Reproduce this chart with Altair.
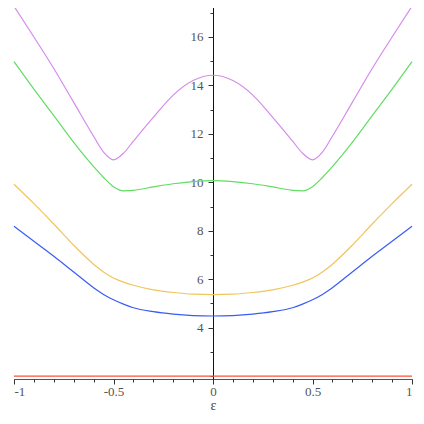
import altair as alt
import pandas as pd

# epsilon grid (x values)
eps = [-1, -0.9, -0.8, -0.7, -0.6, -0.55, -0.5, -0.45, -0.4, -0.3, -0.2, -0.1, 0,
       0.1, 0.2, 0.3, 0.4, 0.45, 0.5, 0.55, 0.6, 0.7, 0.8, 0.9, 1]

red = [2.0, 2.0, 2.0, 2.0, 2.0, 2.0, 2.0, 2.0, 2.0, 2.0, 2.0, 2.0, 2.0,
       2.0, 2.0, 2.0, 2.0, 2.0, 2.0, 2.0, 2.0, 2.0, 2.0, 2.0, 2.0]
blue = [8.19, 7.57, 6.95, 6.30, 5.65, 5.37, 5.15, 4.97, 4.82, 4.66, 4.56, 4.50, 4.48,
        4.50, 4.56, 4.66, 4.82, 4.97, 5.15, 5.37, 5.65, 6.30, 6.95, 7.57, 8.19]
yellow = [9.92, 9.12, 8.28, 7.40, 6.62, 6.30, 6.05, 5.88, 5.75, 5.56, 5.45, 5.38, 5.36,
          5.38, 5.45, 5.56, 5.75, 5.88, 6.05, 6.30, 6.62, 7.40, 8.28, 9.12, 9.92]
green = [14.98, 13.85, 12.75, 11.65, 10.65, 10.20, 9.82, 9.65, 9.67, 9.81, 9.94, 10.03, 10.07,
         10.03, 9.94, 9.81, 9.67, 9.65, 9.82, 10.20, 10.65, 11.65, 12.75, 13.85, 14.98]
purple = [17.27, 16.00, 14.70, 13.30, 11.90, 11.25, 10.93, 11.20, 11.70, 12.68, 13.60, 14.20, 14.42,
          14.20, 13.60, 12.68, 11.70, 11.20, 10.93, 11.25, 11.90, 13.30, 14.70, 16.00, 17.27]

series_names = ["s1", "s2", "s3", "s4", "s5"]
series_colors = ["#ff4f3a", "#3a5cf5", "#f0c55e", "#62dc62", "#d58cec"]

x_major = [-1, -0.5, 0, 0.5, 1]
x_minor = [-1, -0.9, -0.8, -0.7, -0.6, -0.5, -0.4, -0.3, -0.2, -0.1, 0,
           0.1, 0.2, 0.3, 0.4, 0.5, 0.6, 0.7, 0.8, 0.9, 1]
y_major = [4, 6, 8, 10, 12, 14, 16]
y_minor = [2, 3, 4, 5, 6, 7, 8, 9, 10, 11, 12, 13, 14, 15, 16, 17]

rows = []
for name, vals in zip(series_names, [red, blue, yellow, green, purple]):
    for x, y in zip(eps, vals):
        rows.append({"eps": x, "val": y, "series": name})
df = pd.DataFrame(rows)

W, H = 398, 374
FONT = "Liberation Serif, Times New Roman, serif"
xscale = alt.Scale(domain=[-1, 1], nice=False, zero=False)
yscale = alt.Scale(domain=[1.88, 17.32], nice=False, zero=False)

lines = alt.Chart(df).mark_line(strokeWidth=1.2, interpolate="monotone").encode(
    x=alt.X("eps:Q", scale=xscale,
            axis=alt.Axis(values=x_major, orient="bottom", tickSize=5, labelExpr="'' + datum.value",
                          title="ε", titleFont=FONT, titleFontSize=14, titleFontWeight="normal",
                          titleColor="#444", titlePadding=0, labelFont=FONT, labelFontSize=13,
                          labelColor="#555", labelPadding=1, domainColor="#555", tickColor="#333",
                          grid=False)),
    y=alt.Y("val:Q", scale=yscale,
            axis=alt.Axis(values=y_major, orient="left", offset=-W / 2, tickSize=5, title=None,
                          labelFont=FONT, labelFontSize=13, labelColor="#555", labelPadding=5,
                          domainColor="#111", tickColor="#333", grid=False)),
    color=alt.Color("series:N", scale=alt.Scale(domain=series_names, range=series_colors), legend=None),
)

minor = alt.Chart(df).mark_point(opacity=0).encode(
    x=alt.X("eps:Q", scale=xscale,
            axis=alt.Axis(values=x_minor, orient="bottom", tickSize=3, labels=False, domain=False,
                          title=None, tickColor="#333", grid=False)),
    y=alt.Y("val:Q", scale=yscale,
            axis=alt.Axis(values=y_minor, orient="left", offset=-W / 2, tickSize=3, labels=False,
                          domain=False, title=None, tickColor="#333", grid=False)),
)

chart = alt.layer(lines, minor).resolve_axis(x="independent", y="independent").properties(
    width=W, height=H, autosize="none",
    padding={"left": 6, "top": -3, "right": 4, "bottom": 37},
).configure_view(stroke=None)

chart.save("out.html", embed_options={"renderer": "svg", "actions": False})
